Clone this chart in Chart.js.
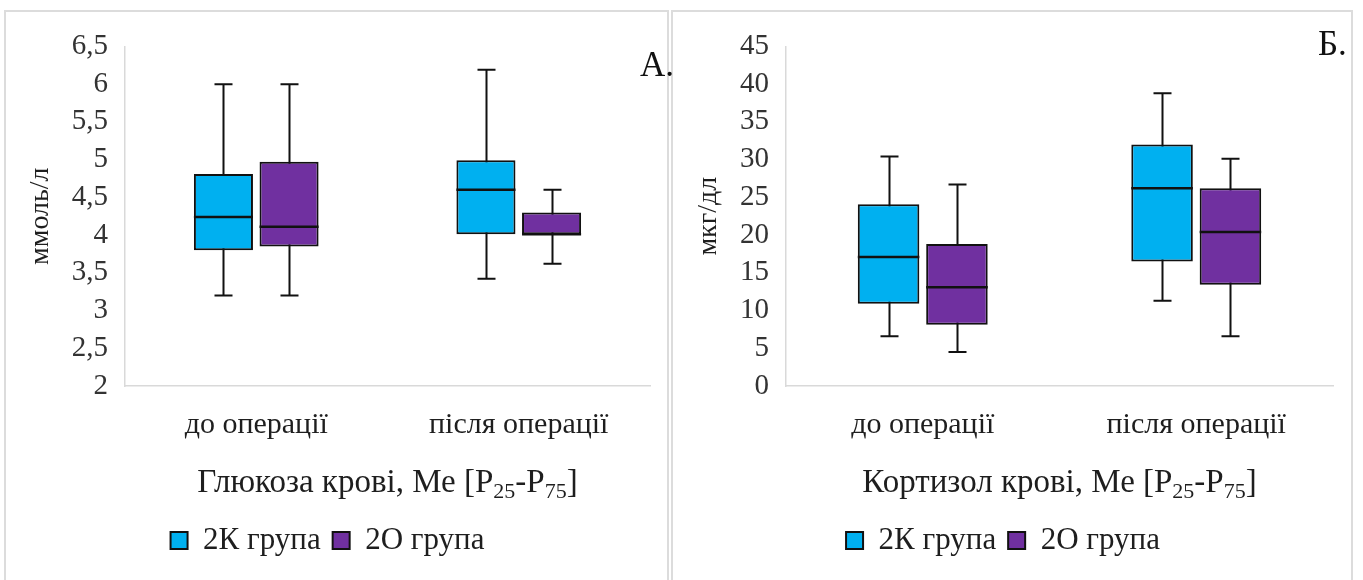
<!DOCTYPE html>
<html><head><meta charset="utf-8">
<script src="https://cdn.jsdelivr.net/npm/chart.js@4.4.1/dist/chart.umd.min.js"></script>
<style>
html,body{margin:0;padding:0;background:#fff;width:1363px;height:580px;overflow:hidden;font-family:'Liberation Serif',serif;}
.panel{position:absolute;border:2px solid #dcdcdc;border-bottom:none;box-sizing:border-box;}
#pA{left:4px;top:10px;width:665px;height:575px;}
#pB{left:671px;top:10px;width:682px;height:575px;}
.wrap{position:absolute;}
.letter{position:absolute;font-size:35px;line-height:1;color:#111;font-family:'Liberation Serif',serif;}
</style></head>
<body>
<div class="panel" id="pA"></div>
<div class="panel" id="pB"></div>
<div class="wrap" style="left:5px;top:12px;width:662px;height:568px"><canvas id="cA" width="662" height="568"></canvas></div>
<div class="wrap" style="left:673px;top:12px;width:677px;height:568px"><canvas id="cB" width="677" height="568"></canvas></div>
<div class="letter" style="left:640px;top:47px">А.</div>
<div class="letter" style="left:1318px;top:26px">Б.</div>
<script>
// ---- data ----
const categories = ['до операції', 'після операції'];
const seriesNames = ['2К група', '2О група'];
// each entry: [min, P25, Me, P75, max]
const glucose2K = [[3.2, 3.8, 4.24, 4.81, 6.0], [3.42, 4.01, 4.6, 4.99, 6.19]];
const glucose2O = [[3.2, 3.85, 4.11, 4.97, 6.0], [3.62, 4.01, 4.01, 4.3, 4.6]];
const cortisol2K = [[6.6, 10.9, 17.1, 24.1, 30.4], [11.3, 16.5, 26.2, 32.0, 38.8]];
const cortisol2O = [[4.5, 8.1, 13.1, 18.8, 26.7], [6.6, 13.4, 20.4, 26.2, 30.1]];
const glucoseTicks = [2, 2.5, 3, 3.5, 4, 4.5, 5, 5.5, 6, 6.5];
const cortisolTicks = [0, 5, 10, 15, 20, 25, 30, 35, 40, 45];
const glucoseUnit = 'ммоль/л';
const cortisolUnit = 'мкг/дл';
const glucoseTitle = [['Глюкоза крові, Ме [P', 0], ['25', 1], ['-P', 0], ['75', 1], [']', 0]];
const cortisolTitle = [['Кортизол крові, Ме [P', 0], ['25', 1], ['-P', 0], ['75', 1], [']', 0]];

const colors = ['#00B0F0', '#7030A0'];
const FONT = "'Liberation Serif', 'Times New Roman', serif";

const boxPlugin = {
  id: 'boxWhisker',
  beforeDatasetsDraw(chart) {
    const ctx = chart.ctx, y = chart.scales.y;
    ctx.save();
    ctx.strokeStyle = '#111';
    ctx.lineWidth = 2;
    chart.data.datasets.forEach((ds, d) => {
      chart.getDatasetMeta(d).data.forEach((el, i) => {
        const s = ds.stats[i];
        const x = Math.round(el.x) + 0.5;
        const yMin = y.getPixelForValue(s[0]), yMax = y.getPixelForValue(s[4]);
        ctx.beginPath();
        ctx.moveTo(x, yMin); ctx.lineTo(x, yMax);
        ctx.moveTo(x - 9, yMin); ctx.lineTo(x + 9, yMin);
        ctx.moveTo(x - 9, yMax); ctx.lineTo(x + 9, yMax);
        ctx.stroke();
      });
    });
    ctx.restore();
  },
  afterDatasetsDraw(chart) {
    const ctx = chart.ctx, y = chart.scales.y;
    ctx.save();
    ctx.strokeStyle = '#111';
    ctx.lineWidth = 2.5;
    chart.data.datasets.forEach((ds, d) => {
      chart.getDatasetMeta(d).data.forEach((el, i) => {
        const s = ds.stats[i];
        const ym = y.getPixelForValue(s[2]);
        ctx.beginPath();
        ctx.moveTo(el.x - el.width / 2, ym); ctx.lineTo(el.x + el.width / 2, ym);
        ctx.stroke();
      });
    });
    ctx.restore();
  }
};

const richTitlePlugin = {
  id: 'richTitle',
  afterDraw(chart, args, opts) {
    const parts = opts.parts; if (!parts) return;
    const ctx = chart.ctx;
    const big = opts.size, small = Math.round(opts.size * 0.66);
    ctx.save();
    ctx.fillStyle = '#1e1e1e';
    ctx.textBaseline = 'alphabetic';
    let total = 0;
    parts.forEach(p => { ctx.font = (p[1] ? small : big) + 'px ' + FONT; total += ctx.measureText(p[0]).width; });
    const ca = chart.chartArea;
    let x = (ca.left + ca.right) / 2 - total / 2;
    const base = ca.bottom + opts.offset;
    parts.forEach(p => {
      ctx.font = (p[1] ? small : big) + 'px ' + FONT;
      ctx.fillText(p[0], x, base + (p[1] ? 6 : 0));
      x += ctx.measureText(p[0]).width;
    });
    ctx.restore();
  }
};

function makeChart(id, k, o, ticks, unit, titleParts, yWidth) {
  const mk = (name, stats, c) => ({
    label: name,
    data: stats.map(s => [s[1], s[3]]),
    stats: stats,
    backgroundColor: c,
    borderColor: '#111',
    borderWidth: 2,
    borderSkipped: false,
    categoryPercentage: 0.5,
    barPercentage: 0.9
  });
  return new Chart(document.getElementById(id), {
    type: 'bar',
    data: {
      labels: categories,
      datasets: [mk(seriesNames[0], k, colors[0]), mk(seriesNames[1], o, colors[1])]
    },
    plugins: [boxPlugin, richTitlePlugin],
    options: {
      responsive: false,
      devicePixelRatio: 1,
      animation: false,
      layout: { padding: { top: 33, right: 17, bottom: 14, left: 0 } },
      plugins: {
        tooltip: { enabled: false },
        legend: {
          position: 'bottom',
          labels: { font: { family: FONT, size: 31 }, color: '#1e1e1e', boxWidth: 17, boxHeight: 17, padding: 12 }
        },
        richTitle: { parts: titleParts, size: 33, offset: 106 }
      },
      scales: {
        x: {
          grid: { display: false, drawTicks: false },
          border: { display: true, color: '#d9d9d9', width: 1.5 },
          ticks: { font: { family: FONT, size: 30 }, color: '#1e1e1e', padding: 21 },
          afterFit(s) { s.height = 127; }
        },
        y: {
          min: ticks[0], max: ticks[ticks.length - 1],
          afterBuildTicks(s) { s.ticks = ticks.map(v => ({ value: v })); },
          grid: { display: false, drawTicks: false },
          border: { display: true, color: '#d9d9d9', width: 1.5 },
          ticks: { font: { family: FONT, size: 29 }, color: '#333', padding: 17, autoSkip: false,
                   callback: v => String(v).replace('.', ',') },
          title: { display: true, text: unit, font: { family: FONT, size: 28 }, color: '#1e1e1e', padding: { top: 19, bottom: 0 } },
          afterFit(s) { s.width = yWidth; }
        }
      }
    }
  });
}

makeChart('cA', glucose2K, glucose2O, glucoseTicks, glucoseUnit, glucoseTitle, 120);
makeChart('cB', cortisol2K, cortisol2O, cortisolTicks, cortisolUnit, cortisolTitle, 113);
</script>
</body></html>
